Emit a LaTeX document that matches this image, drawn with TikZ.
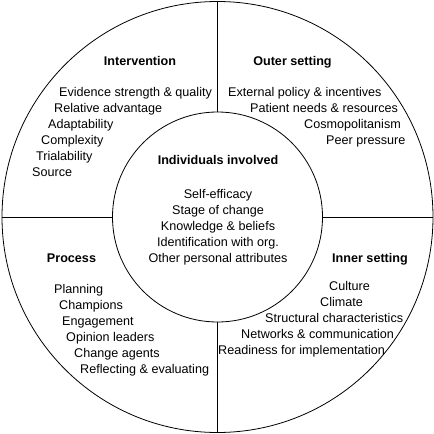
\documentclass[tikz,border=0pt]{standalone}
\usepackage{fontspec}
\setmainfont{Liberation Sans}
\usepackage{tikz}
\usetikzlibrary{positioning}

\begin{document}
\begin{tikzpicture}[
  x=1pt, y=-1pt,
  every node/.style={font=\fontsize{12.6}{15}\selectfont, inner sep=0pt},
  ring/.style={circle, draw, line width=0.8pt},
  head/.style={anchor=base, font=\fontsize{12.6}{15}\selectfont\bfseries},
  item/.style={anchor=base west},
  mid/.style={anchor=base},
  sep/.style={line width=0.8pt}
]
\useasboundingbox (0,0) rectangle (434,434);
% ── Circles and dividers ───────────────────────
\node[ring, minimum size=431pt] (outer) at (217.5,217) {};
\node[ring, minimum size=210pt] (inner) at (217.5,217) {};
\draw[sep] (outer.north) -- (inner.north);
\draw[sep] (inner.south) -- (outer.south);
\draw[sep] (outer.west) -- (inner.west);
\draw[sep] (inner.east) -- (outer.east);
% ── Intervention ───────────────────────────────
\node[head] (iv) at (140,65.5) {Intervention};
\node[item] (iv1) at (59,96.5) {Evidence strength \& quality};
\node[item] (iv2) at (54,112.5) {Relative advantage};
\node[item] (iv3) at (48,128.5) {Adaptability};
\node[item] (iv4) at (41,144.5) {Complexity};
\node[item] (iv5) at (36,160.5) {Trialability};
\node[item] (iv6) at (32,176.5) {Source};
% ── Outer setting ──────────────────────────────
\node[head] (os) at (292.5,65.5) {Outer setting};
\node[item] (os1) at (228,96.5) {External policy \& incentives};
\node[item] (os2) at (250,112.5) {Patient needs \& resources};
\node[item] (os3) at (304,128.5) {Cosmopolitanism};
\node[item] (os4) at (326,144.5) {Peer pressure};
% ── Individuals involved ───────────────────────
\node[head] (ind) at (218,164.5) {Individuals involved};
\node[mid] (ind1) at (218,198.5) {Self-efficacy};
\node[mid] (ind2) at (218,214.5) {Stage of change};
\node[mid] (ind3) at (218,230.5) {Knowledge \& beliefs};
\node[mid] (ind4) at (218,246.5) {Identification with org.};
\node[mid] (ind5) at (218,262.5) {Other personal attributes};
% ── Process ────────────────────────────────────
\node[head] (pr) at (71.5,262.5) {Process};
\node[item] (pr1) at (54,293.5) {Planning};
\node[item] (pr2) at (59,309.5) {Champions};
\node[item] (pr3) at (62,325.5) {Engagement};
\node[item] (pr4) at (66,341.5) {Opinion leaders};
\node[item] (pr5) at (74,357.5) {Change agents};
\node[item] (pr6) at (80,373.5) {Reflecting \& evaluating};
% ── Inner setting ──────────────────────────────
\node[head] (is) at (370,262.5) {Inner setting};
\node[item] (is1) at (329,290.5) {Culture};
\node[item] (is2) at (320,306.5) {Climate};
\node[item] (is3) at (265,322.5) {Structural characteristics};
\node[item] (is4) at (241,338.5) {Networks \& communication};
\node[item] (is5) at (218,354.5) {Readiness for implementation};
\end{tikzpicture}
\end{document}
